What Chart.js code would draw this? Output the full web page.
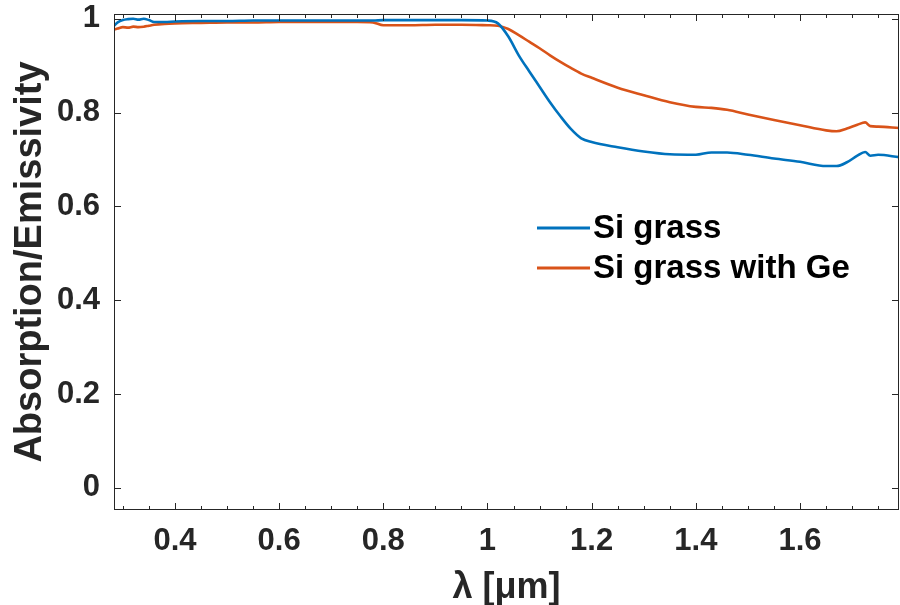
<!DOCTYPE html>
<html>
<head>
<meta charset="utf-8">
<script src="https://cdn.jsdelivr.net/npm/chart.js@4.4.1/dist/chart.umd.min.js"></script>
<style>
  html, body { margin: 0; padding: 0; background: #fff; }
  #wrap { width: 900px; height: 605px; }
</style>
</head>
<body>
<div id="wrap"><canvas id="spectrum" width="900" height="605"></canvas></div>
<script>
// wavelength in micrometres
var wavelength = [0.283, 0.29, 0.30, 0.31, 0.32, 0.33, 0.34, 0.35, 0.36, 0.38,
    0.40, 0.45, 0.50, 0.55, 0.60, 0.65, 0.70, 0.75, 0.78, 0.80,
    0.85, 0.90, 0.95, 1.00, 1.02, 1.04, 1.06, 1.08, 1.10, 1.12,
    1.14, 1.16, 1.18, 1.20, 1.25, 1.30, 1.35, 1.40, 1.43, 1.46,
    1.50, 1.55, 1.60, 1.65, 1.67, 1.69, 1.71, 1.725, 1.735, 1.75,
    1.79];

var siGrass = [0.985, 0.992, 0.997, 0.999, 1.000, 0.998, 1.000, 0.997, 0.993, 0.993,
    0.994, 0.995, 0.995, 0.996, 0.996, 0.996, 0.996, 0.996, 0.996, 0.997,
    0.997, 0.997, 0.997, 0.996, 0.990, 0.962, 0.922, 0.888, 0.855, 0.822,
    0.792, 0.765, 0.745, 0.737, 0.726, 0.717, 0.711, 0.710, 0.715, 0.715,
    0.710, 0.702, 0.695, 0.686, 0.686, 0.694, 0.708, 0.716, 0.708, 0.710,
    0.705];

var siGrassGe = [0.977, 0.979, 0.982, 0.981, 0.983, 0.982, 0.983, 0.985, 0.987, 0.989,
    0.990, 0.991, 0.992, 0.992, 0.993, 0.993, 0.993, 0.993, 0.992, 0.986,
    0.986, 0.987, 0.987, 0.986, 0.985, 0.978, 0.965, 0.951, 0.937, 0.922,
    0.908, 0.895, 0.883, 0.874, 0.853, 0.837, 0.822, 0.812, 0.810, 0.806,
    0.796, 0.784, 0.773, 0.762, 0.760, 0.766, 0.774, 0.779, 0.771, 0.770,
    0.767];

var xTicks = [0.4, 0.6, 0.8, 1.0, 1.2, 1.4, 1.6];
var yTicks = [0, 0.2, 0.4, 0.6, 0.8, 1.0];
var seriesNames = ['Si grass', 'Si grass with Ge'];
var seriesColors = ['#0072BD', '#D95319'];

var FONT = "'Liberation Sans', Arial, Helvetica, sans-serif";
var INK = '#262626';

function pairs(ys) {
    return wavelength.map(function(x, i) { return { x: x, y: ys[i] }; });
}

function fmt(v) {
    return String(+v.toFixed(1));
}

// MATLAB style box with inward ticks on all four sides
var boxTicks = {
    id: 'boxTicks',
    afterDatasetsDraw: function(chart) {
        var ctx = chart.ctx, a = chart.chartArea;
        var xs = chart.scales.x, ys = chart.scales.y;
        ctx.save();
        ctx.strokeStyle = INK;
        ctx.lineWidth = 1;
        ctx.strokeRect(a.left + 0.5, a.top + 0.5, a.right - a.left - 1, a.bottom - a.top - 1);
        ctx.beginPath();
        for (var k = 6; k <= 35; k++) {
            var v = k * 0.05;
            if (v < xs.min || v > xs.max) continue;
            var len = (k % 4 === 0) ? 7 : 4;
            var px = Math.round(xs.getPixelForValue(v)) + 0.5;
            ctx.moveTo(px, a.bottom); ctx.lineTo(px, a.bottom - len);
            ctx.moveTo(px, a.top); ctx.lineTo(px, a.top + len);
        }
        yTicks.forEach(function(v) {
            var py = Math.round(ys.getPixelForValue(v)) + 0.5;
            ctx.moveTo(a.left, py); ctx.lineTo(a.left + 7, py);
            ctx.moveTo(a.right, py); ctx.lineTo(a.right - 7, py);
        });
        ctx.stroke();
        ctx.restore();
    }
};

var insideLegend = {
    id: 'insideLegend',
    afterDraw: function(chart) {
        var ctx = chart.ctx;
        ctx.save();
        ctx.font = 'bold 33px ' + FONT;
        ctx.textBaseline = 'middle';
        ctx.textAlign = 'left';
        chart.data.datasets.forEach(function(ds, i) {
            var y = 228 + i * 40;
            ctx.strokeStyle = ds.borderColor;
            ctx.lineWidth = 3;
            ctx.beginPath();
            ctx.moveTo(537, y); ctx.lineTo(590, y);
            ctx.stroke();
            ctx.fillStyle = '#000';
            ctx.fillText(ds.label, 593, y + 1);
        });
        ctx.restore();
    }
};

var ctx = document.getElementById('spectrum').getContext('2d');
var spectrumChart = new Chart(ctx, {
    type: 'line',
    data: {
        datasets: [{
            label: seriesNames[0],
            data: pairs(siGrass),
            borderColor: seriesColors[0],
            borderWidth: 2.6,
            pointRadius: 0,
            cubicInterpolationMode: 'monotone'
        }, {
            label: seriesNames[1],
            data: pairs(siGrassGe),
            borderColor: seriesColors[1],
            borderWidth: 2.6,
            pointRadius: 0,
            cubicInterpolationMode: 'monotone'
        }]
    },
    options: {
        responsive: false,
        animation: false,
        layout: { padding: { top: 14, right: 1, left: 0, bottom: 0 } },
        plugins: {
            legend: { display: false },
            tooltip: { enabled: false }
        },
        scales: {
            x: {
                type: 'linear',
                min: 0.283,
                max: 1.79,
                grid: { display: false, drawTicks: false, tickLength: 0 },
                border: { display: false },
                afterBuildTicks: function(s) { s.ticks = xTicks.map(function(v) { return { value: v }; }); },
                afterFit: function(s) { s.height = 95; s.paddingLeft = 0; s.paddingRight = 0; },
                ticks: {
                    autoSkip: false,
                    maxRotation: 0,
                    padding: 13,
                    color: INK,
                    font: { family: FONT, size: 31, weight: 'bold' },
                    callback: fmt
                },
                title: {
                    display: true,
                    text: 'λ [μm]',
                    color: INK,
                    padding: { top: 0, bottom: 1 },
                    font: { family: FONT, size: 36, weight: 'bold', lineHeight: 0.9 }
                }
            },
            y: {
                min: -0.047,
                max: 1.01,
                grid: { display: false, drawTicks: false, tickLength: 0 },
                border: { display: false },
                afterBuildTicks: function(s) { s.ticks = yTicks.map(function(v) { return { value: v }; }); },
                afterFit: function(s) { s.width = 114; s.paddingTop = 0; s.paddingBottom = 0; },
                ticks: {
                    autoSkip: false,
                    padding: 14,
                    color: INK,
                    font: { family: FONT, size: 31, weight: 'bold' },
                    callback: fmt
                },
                title: {
                    display: true,
                    text: 'Absorption/Emissivity',
                    color: INK,
                    padding: { top: 8, bottom: 0 },
                    font: { family: FONT, size: 38, weight: 'bold' }
                }
            }
        }
    },
    plugins: [boxTicks, insideLegend]
});
</script>
</body>
</html>
